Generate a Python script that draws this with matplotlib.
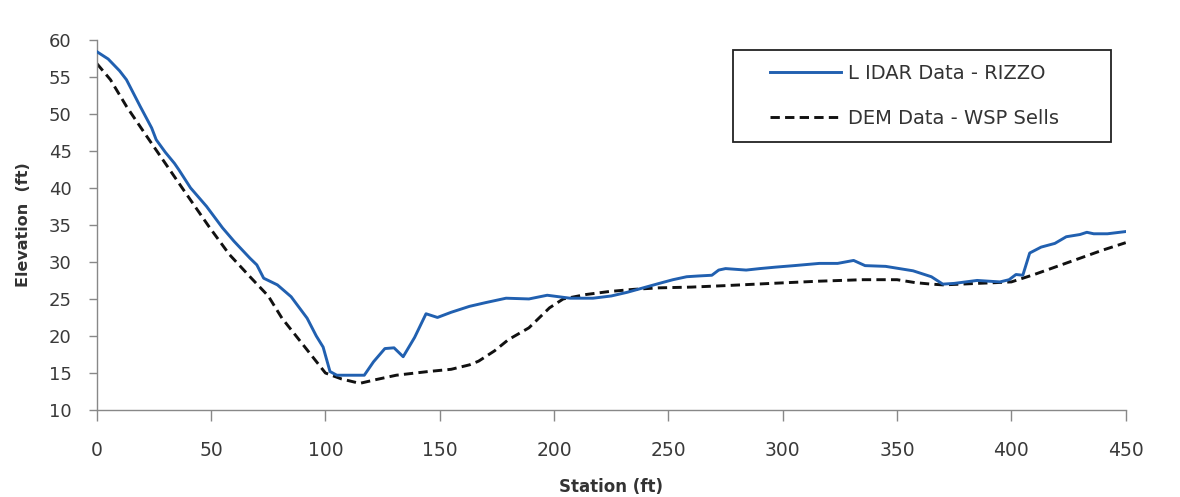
import matplotlib
matplotlib.use("Agg")
import matplotlib.pyplot as plt
from matplotlib.patches import Rectangle

plt.rcParams['font.family'] = ['DejaVu Sans']

# LIDAR Data - RIZZO
lidar_station = [0, 5, 10, 13, 19, 24, 26, 30, 34, 36, 41, 48, 55, 60, 67, 70, 73, 79, 85,
                 92, 96, 99, 102, 105, 110, 117, 121, 126, 130, 134, 139, 144, 149, 155,
                 163, 170, 179, 189, 197, 202, 207, 217, 225, 232, 239, 246, 252, 258,
                 263, 269, 272, 275, 284, 290, 297, 305, 316, 324, 331, 336, 345, 357,
                 365, 370, 375, 380, 385, 390, 395, 399, 402, 405, 408, 413, 419, 424,
                 430, 433, 436, 442, 450]
lidar_elev = [58.4, 57.4, 55.8, 54.6, 51.0, 48.1, 46.5, 44.8, 43.3, 42.4, 40.0, 37.5, 34.6,
              32.8, 30.5, 29.6, 27.8, 26.9, 25.3, 22.4, 20.0, 18.5, 15.2, 14.7, 14.7,
              14.7, 16.5, 18.3, 18.4, 17.2, 19.8, 23.0, 22.5, 23.2, 24.0, 24.5, 25.1,
              25.0, 25.5, 25.3, 25.1, 25.1, 25.4, 25.9, 26.5, 27.1, 27.6, 28.0, 28.1,
              28.2, 28.9, 29.1, 28.9, 29.1, 29.3, 29.5, 29.8, 29.8, 30.2, 29.5, 29.4,
              28.8, 28.0, 27.0, 27.1, 27.3, 27.5, 27.4, 27.3, 27.6, 28.3, 28.2, 31.2,
              32.0, 32.5, 33.4, 33.7, 34.0, 33.8, 33.8, 34.1]

# DEM Data - WSP Sells
dem_station = [0, 6, 13, 22, 30, 38, 49, 58, 67, 75, 81, 90, 100, 107, 115, 122, 131,
               145, 155, 163, 167, 174, 180, 189, 198, 204, 214, 224, 235, 246, 260,
               275, 295, 316, 335, 350, 358, 365, 370, 378, 385, 393, 400, 410, 420,
               430, 440, 450]
dem_elev = [56.8, 54.6, 51.0, 46.9, 43.3, 39.7, 34.8, 31.0, 28.0, 25.4, 22.4, 18.9, 15.0,
            14.2, 13.6, 14.1, 14.7, 15.2, 15.5, 16.1, 16.6, 18.0, 19.5, 21.1, 23.8,
            25.0, 25.6, 26.0, 26.3, 26.5, 26.6, 26.8, 27.1, 27.4, 27.6, 27.6, 27.2,
            27.0, 26.9, 27.0, 27.1, 27.2, 27.3, 28.3, 29.4, 30.5, 31.6, 32.6]

x_ticks = [0, 50, 100, 150, 200, 250, 300, 350, 400, 450]
y_ticks = [10, 15, 20, 25, 30, 35, 40, 45, 50, 55, 60]

fig = plt.figure(figsize=(11.8, 4.97), dpi=100)
ax = fig.add_axes([0.082, 0.175, 0.872, 0.745])

ax.plot(lidar_station, lidar_elev, color='#2160b0', lw=2.1, label='L IDAR Data - RIZZO', zorder=3)
ax.plot(dem_station, dem_elev, color='#111111', lw=2.1, ls=(0, (3.2, 1.8)),
        label='DEM Data - WSP Sells', zorder=2)

ax.set_xlim(0, 450)
ax.set_ylim(10, 60)
ax.set_xticks(x_ticks)
ax.set_yticks(y_ticks)
ax.tick_params(axis='both', labelcolor='#3a3a3a', color='#888888',
               direction='out', width=1)
ax.tick_params(axis='x', labelsize=13.5, length=8, pad=14)
ax.tick_params(axis='y', labelsize=13, length=6, pad=12)

for s in ['top', 'right']:
    ax.spines[s].set_visible(False)
for s in ['left', 'bottom']:
    ax.spines[s].set_color('#888888')
    ax.spines[s].set_linewidth(1)

ax.set_xlabel('Station (ft)', fontsize=12, fontweight='bold', color='#333333', labelpad=13)
ax.set_ylabel('Elevation  (ft)', fontsize=11.5, fontweight='bold', color='#333333', labelpad=13)

# legend frame (drawn as a rectangle in axes coordinates)
frame = Rectangle((0.618, 0.724), 0.368, 0.249, transform=ax.transAxes, fill=True,
                  facecolor='white', edgecolor='#222222', lw=1.3, zorder=4)
ax.add_patch(frame)
leg = ax.legend(loc='center', bbox_to_anchor=(0.795, 0.849), frameon=False,
                fontsize=14, handlelength=3.66, handletextpad=0.36,
                labelspacing=1.35, borderpad=0.0, borderaxespad=0)
leg.set_zorder(5)
for t in leg.get_texts():
    t.set_color('#333333')

fig.savefig('out.png', dpi=100, facecolor='white')
